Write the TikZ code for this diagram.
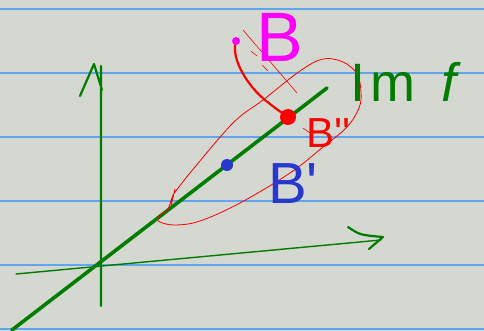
\documentclass[tikz,border=0pt]{standalone}
\usepackage{fontspec}
\setmainfont{Liberation Sans}
\definecolor{paper}{RGB}{212,216,208}
\definecolor{rule}{RGB}{95,165,240}
\definecolor{pen}{RGB}{0,125,0}
\definecolor{mag}{RGB}{255,0,255}
\definecolor{ink}{RGB}{40,55,205}
\begin{document}
\begin{tikzpicture}[x=1pt, y=-1pt, line join=round, line cap=round, >=stealth,
  lbl/.style={inner sep=0pt, font=\fontsize{#1}{#1}\selectfont}]
\fill[paper] (0,0) rectangle (484,331);
\useasboundingbox (0,0) rectangle (484,331);
\foreach \y in {9,73,137,201,265,329} \draw[rule, line width=1.6pt] (0,\y)--(484,\y);
\path (101,306) coordinate (V0) (101,66) coordinate (V1) (16,274) coordinate (H0) (381,240) coordinate (H1)
  (12,330) coordinate (L0) (327,88) coordinate (L1) (227,165) coordinate (P) (288,117) coordinate (Q) (236,41) coordinate (R);
\draw[pen, line width=2.2pt] (V0)--(V1) (V1)++(-21,30)--++(14,-32)--++(8,26);
\draw[pen, line width=1.4pt] (H0)--(H1);
\draw[pen, line width=2.2pt] (H1)++(-33,-13) .. controls +(12,8) .. ++(35,10)--++(-14,12);
\draw[pen, line width=3.6pt] (L0)--(L1);
% the loop round Im f
\draw[red, line width=0.8pt] plot[smooth, tension=0.6] coordinates {(173,195) (190,173) (233,123) (263,100) (300,71) (323,59) (343,62) (357,74) (361,92) (359,108) (347,127) (323,147) (290,173) (240,203) (200,221) (175,225) (160,222) (158,217) (168,210)} (168,210)--(173,195) (175,189)--(171,206);
\draw[red, line width=0.6pt] (243,30)--(297,93) (251,51)--(257,56) (262,65)--(268,71) (303,128)--(310,133);
\draw[red, line width=2.2pt] (R) .. controls (230,60) and (250,88) .. (265,100) .. controls (275,108) .. (Q);
\fill[red] (Q) circle(8pt);
\fill[ink] (P) circle(6pt);
\fill[mag] (R) circle(4pt);
\node[lbl=70, mag, anchor=center] (b) at (280,37) {B};
\node[lbl=42, red, anchor=base west] (b2) at (306,148) {B\textquotesingle\textquotesingle};
\node[lbl=58, ink, anchor=base west] (b1) at (268,203) {B\textquotesingle};
\node[lbl=54, pen, anchor=base west] (im) at (350,102) {I\hspace{5pt}m\hspace{26pt}\textit{f}};
\end{tikzpicture}
\end{document}
